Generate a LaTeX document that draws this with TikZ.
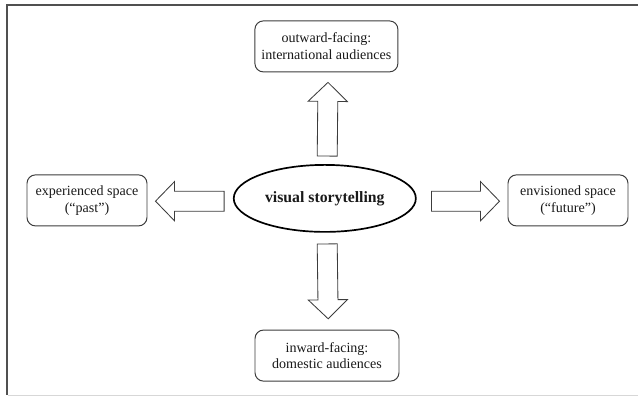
\documentclass[tikz,border=0pt]{standalone}
\usepackage{fontspec}
\setmainfont{Liberation Serif}
\usepackage{tikz}
\usetikzlibrary{positioning,calc,shapes.geometric}
\definecolor{framegray}{RGB}{80,80,80}
\definecolor{edgegray}{RGB}{60,60,60}
\definecolor{rulegray}{RGB}{215,215,215}

% hollow block arrow from #1 to the tip #2
\newcommand{\fatarrow}[2]{%
  \coordinate (hb) at ($(#2)!0.475cm!(#1)$);
  \draw[blockarrow] ($(#1)!0.25cm!90:(#2)$) -- ($(hb)!0.25cm!90:(#2)$)
    -- ($(hb)!0.49cm!90:(#2)$) -- (#2) -- ($(hb)!0.49cm!-90:(#2)$)
    -- ($(hb)!0.25cm!-90:(#2)$) -- ($(#1)!0.25cm!-90:(#2)$) -- cycle;%
}

\begin{document}
\begin{tikzpicture}[every node/.style={font=\fontsize{10}{12}\selectfont, text=black!90}]
  \tikzstyle{space}=[draw=edgegray, line width=0.7pt, rounded corners=6pt, align=center, minimum height=1.275cm, inner sep=2pt]
  \tikzstyle{blockarrow}=[draw=edgegray, line width=0.6pt, fill=white, line join=miter]
  \useasboundingbox (0,0) rectangle (15.95,9.9);
  % frame
  \draw[framegray, line width=1.4pt] (0.175,0.03) -- (0.175,9.775) -- (15.95,9.775);
  \draw[rulegray, line width=0.6pt] (0.2,0.025) -- (15.95,0.025);
  % centre and the four spaces
  \node[ellipse, draw=black, line width=1.2pt, minimum width=4.2cm, minimum height=1.675cm, font=\fontsize{11.2}{13}\selectfont\bfseries] (story) at (8.12,4.94) {visual storytelling};
  \node[space, minimum width=3.575cm] (outward) at (8.16,8.74) {outward-facing:\\international audiences};
  \node[space, minimum width=3.6cm] (inward) at (8.175,1.01) {inward-facing:\\domestic audiences};
  \node[space, minimum width=3cm] (past) at (2.175,4.89) {experienced space\\(“past”)};
  \node[space, minimum width=3cm] (future) at (14.2,4.89) {envisioned space\\(“future”)};
  % arrows
  \coordinate (upS) at ($(story.north)+(0.06,0.2)$);
  \coordinate (upT) at ($(outward.south)+(0.04,-0.25)$);
  \fatarrow{upS}{upT}
  \coordinate (downS) at ($(story.south)+(0.06,-0.28)$);
  \coordinate (downT) at ($(inward.north)+(0.03,0.27)$);
  \fatarrow{downS}{downT}
  \coordinate (leftT) at ($(past.east)+(0.2,-0.02)$);
  \coordinate (leftS) at ($(leftT -| story.west)+(-0.22,0)$);
  \fatarrow{leftS}{leftT}
  \coordinate (rightT) at ($(future.west)+(-0.2,-0.02)$);
  \coordinate (rightS) at ($(rightT -| story.east)+(0.37,0)$);
  \fatarrow{rightS}{rightT}
\end{tikzpicture}
\end{document}
